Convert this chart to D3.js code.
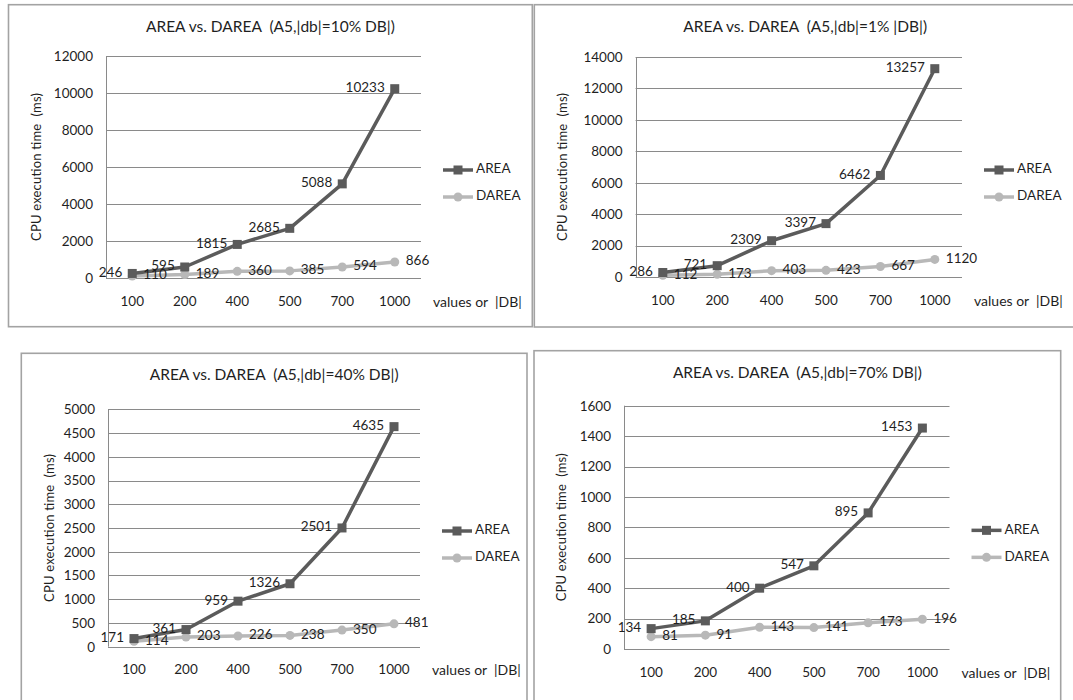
<!DOCTYPE html>
<html>
<head>
<meta charset="utf-8">
<script src="https://cdn.jsdelivr.net/npm/d3@7"></script>
<style>
  html, body { margin: 0; padding: 0; background: #fff; }
  svg { display: block; font-family: Lato, "Open Sans", sans-serif; }
</style>
</head>
<body>
<svg id="chart" width="1073" height="700"></svg>
<script>
// ---- data ----
const categories = ["100", "200", "400", "500", "700", "1000"];
const seriesNames = ["AREA", "DAREA"];
const titles = [
  "AREA vs. DAREA  (A5,|db|=10% DB|)",
  "AREA vs. DAREA  (A5,|db|=1% |DB|)",
  "AREA vs. DAREA  (A5,|db|=40% DB|)",
  "AREA vs. DAREA  (A5,|db|=70% DB|)"
];
const area10 = [246, 595, 1815, 2685, 5088, 10233];
const darea10 = [110, 189, 360, 385, 594, 866];
const area1 = [286, 721, 2309, 3397, 6462, 13257];
const darea1 = [112, 173, 403, 423, 667, 1120];
const area40 = [171, 361, 959, 1326, 2501, 4635];
const darea40 = [114, 203, 226, 238, 350, 481];
const area70 = [134, 185, 400, 547, 895, 1453];
const darea70 = [81, 91, 143, 141, 173, 196];
const yTicks10 = [0, 2000, 4000, 6000, 8000, 10000, 12000];
const yTicks1 = [0, 2000, 4000, 6000, 8000, 10000, 12000, 14000];
const yTicks40 = [0, 500, 1000, 1500, 2000, 2500, 3000, 3500, 4000, 4500, 5000];
const yTicks70 = [0, 200, 400, 600, 800, 1000, 1200, 1400, 1600];
const yAxisTitle = "CPU execution time  (ms)";
const xAxisTitle = "values or  |DB|";

// ---- layout (separate from data) ----
const panels = [
  { title: titles[0], area: area10, darea: darea10, ticks: yTicks10,
    box: {l: 8.5, t: 4.7, r: 532.3, b: 326.7}, plot: {l: 106, r: 421, t: 56, b: 278} },
  { title: titles[1], area: area1, darea: darea1, ticks: yTicks1,
    box: {l: 534.3, t: 4.7, r: 1076, b: 327}, plot: {l: 635.6, r: 962, t: 57, b: 277} },
  { title: titles[2], area: area40, darea: darea40, ticks: yTicks40,
    box: {l: 21.3, t: 353.3, r: 527, b: 720}, plot: {l: 108, r: 420, t: 409.3, b: 646.7} },
  { title: titles[3], area: area70, darea: darea70, ticks: yTicks70,
    box: {l: 534, t: 350.7, r: 1060.7, b: 720}, plot: {l: 624, r: 949.5, t: 405.7, b: 649} }
];

const colors = { AREA: "#5b5b5b", DAREA: "#b8b8b8" };
const textColor = "#1f1f1f";
const svg = d3.select("#chart");

panels.forEach(p => {
  const g = svg.append("g");
  // outer border
  g.append("rect")
    .attr("x", p.box.l).attr("y", p.box.t)
    .attr("width", p.box.r - p.box.l).attr("height", p.box.b - p.box.t)
    .attr("fill", "#fff").attr("stroke", "#a3a3a3").attr("stroke-width", 1.6);

  const x = d3.scaleBand().domain(categories).range([p.plot.l, p.plot.r]);
  const y = d3.scaleLinear().domain([0, d3.max(p.ticks)]).range([p.plot.b, p.plot.t]);
  const cx = d => x(d) + x.bandwidth() / 2;

  // gridlines
  g.append("g").selectAll("line").data(p.ticks).join("line")
    .attr("x1", p.plot.l).attr("x2", p.plot.r)
    .attr("y1", d => Math.round(y(d)) + 0.5).attr("y2", d => Math.round(y(d)) + 0.5)
    .attr("stroke", "#8a8a8a").attr("stroke-width", 1);
  // y axis line
  g.append("line")
    .attr("x1", Math.round(p.plot.l) + 0.5).attr("x2", Math.round(p.plot.l) + 0.5)
    .attr("y1", p.plot.t).attr("y2", p.plot.b)
    .attr("stroke", "#8a8a8a").attr("stroke-width", 1);

  // y axis with d3 axis (labels only)
  const yAxis = d3.axisLeft(y).tickValues(p.ticks).tickSize(0).tickPadding(13).tickFormat(d3.format("d"));
  const ya = g.append("g").attr("transform", `translate(${p.plot.l},0)`).call(yAxis);
  ya.select(".domain").remove();
  ya.selectAll("text").attr("fill", textColor).style("font-size", "13.5px").style("font-family", "Lato, sans-serif");

  // x axis labels
  const xAxis = d3.axisBottom(x).tickSize(0).tickPadding(18);
  const xa = g.append("g").attr("transform", `translate(0,${p.plot.b})`).call(xAxis);
  xa.select(".domain").remove();
  xa.selectAll("text").attr("fill", textColor).style("font-size", "13.5px").style("font-family", "Lato, sans-serif");

  // title
  g.append("text")
    .attr("x", (p.box.l + p.box.r) / 2).attr("y", p.box.t + 23)
    .attr("text-anchor", "middle").attr("dominant-baseline", "middle")
    .attr("fill", textColor).style("font-size", "15.5px")
    .attr("xml:space", "preserve")
    .text(p.title);

  // y axis title
  const midY = (p.plot.t + p.plot.b) / 2;
  g.append("text")
    .attr("transform", `translate(${p.box.l + 29},${midY}) rotate(-90)`)
    .attr("text-anchor", "middle").attr("dominant-baseline", "middle")
    .attr("fill", textColor).style("font-size", "13px")
    .attr("textLength", 148).attr("lengthAdjust", "spacing")
    .attr("xml:space", "preserve")
    .text(yAxisTitle);

  // x axis title
  g.append("text")
    .attr("x", p.plot.r + 12).attr("y", p.plot.b + 25)
    .attr("dominant-baseline", "middle")
    .attr("fill", textColor).style("font-size", "14px")
    .attr("xml:space", "preserve")
    .text(xAxisTitle);

  const line = d3.line().x((d, i) => cx(categories[i])).y(d => y(d));

  // DAREA series
  g.append("path").datum(p.darea)
    .attr("d", line).attr("fill", "none")
    .attr("stroke", colors.DAREA).attr("stroke-width", 3.5).attr("stroke-linejoin", "round");
  g.append("g").selectAll("circle").data(p.darea).join("circle")
    .attr("cx", (d, i) => cx(categories[i])).attr("cy", d => y(d)).attr("r", 4.5)
    .attr("fill", colors.DAREA);

  // AREA series
  g.append("path").datum(p.area)
    .attr("d", line).attr("fill", "none")
    .attr("stroke", colors.AREA).attr("stroke-width", 3.5).attr("stroke-linejoin", "round");
  g.append("g").selectAll("rect").data(p.area).join("rect")
    .attr("x", (d, i) => cx(categories[i]) - 4.5).attr("y", d => y(d) - 4.5)
    .attr("width", 9).attr("height", 9)
    .attr("fill", colors.AREA);

  // data labels: AREA left, DAREA right
  g.append("g").selectAll("text").data(p.area).join("text")
    .attr("x", (d, i) => cx(categories[i]) - 10).attr("y", d => y(d))
    .attr("text-anchor", "end").attr("dominant-baseline", "middle")
    .attr("fill", textColor).style("font-size", "13.5px")
    .text(d => d);
  g.append("g").selectAll("text").data(p.darea).join("text")
    .attr("x", (d, i) => cx(categories[i]) + 11).attr("y", d => y(d))
    .attr("text-anchor", "start").attr("dominant-baseline", "middle")
    .attr("fill", textColor).style("font-size", "13.5px")
    .text(d => d);

  // legend
  const lx = p.plot.r + 22;
  seriesNames.forEach((name, k) => {
    const ly = midY + (k === 0 ? 3 : 30);
    g.append("line").attr("x1", lx).attr("x2", lx + 30).attr("y1", ly).attr("y2", ly)
      .attr("stroke", colors[name]).attr("stroke-width", 3.5);
    if (name === "AREA") {
      g.append("rect").attr("x", lx + 15 - 4.5).attr("y", ly - 4.5).attr("width", 9).attr("height", 9)
        .attr("fill", colors[name]);
    } else {
      g.append("circle").attr("cx", lx + 15).attr("cy", ly).attr("r", 4.5).attr("fill", colors[name]);
    }
    g.append("text").attr("x", lx + 33).attr("y", ly)
      .attr("dominant-baseline", "middle").attr("fill", textColor).style("font-size", "13.5px")
      .text(name);
  });
});
</script>
</body>
</html>
